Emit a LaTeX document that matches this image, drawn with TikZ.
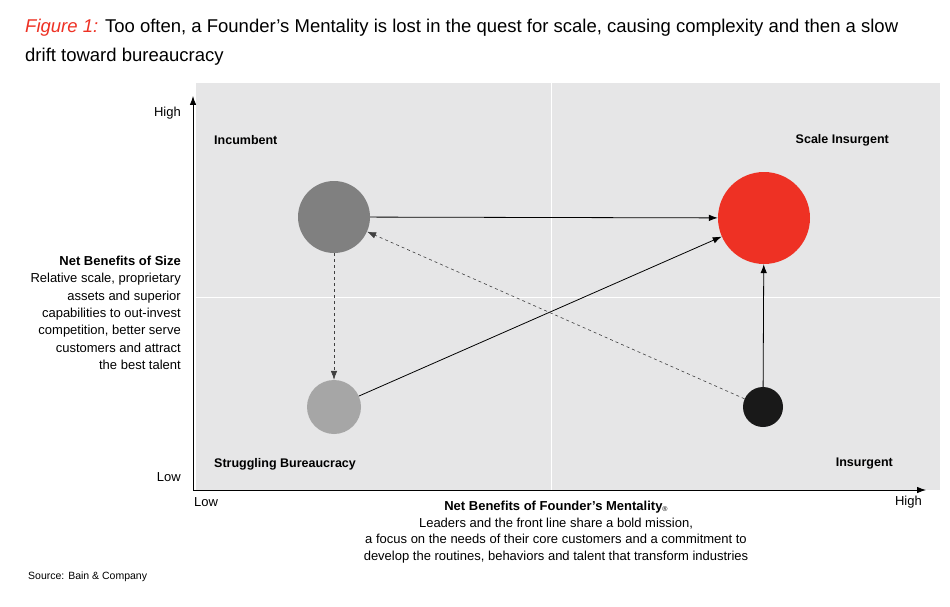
\documentclass[tikz,border=0pt]{standalone}
\usepackage{fontspec}
\setmainfont{Liberation Sans}
\usetikzlibrary{arrows.meta}
\definecolor{bred}{HTML}{EE3124}
\definecolor{plotbg}{HTML}{E6E6E7}
\begin{document}
\begin{tikzpicture}[x=1pt,y=-1pt,
  dot/.style={circle,draw=none,inner sep=0pt},
  lab/.style={font=\fontsize{12.5}{14}\selectfont\bfseries,inner sep=0pt},
  ax/.style={font=\fontsize{13}{16.5}\selectfont,inner sep=0pt},
  conn/.style={-{Latex[length=9pt,width=6.5pt]},line width=0.8pt},
  dconn/.style={conn,dashed,draw=black!75,line width=0.6pt}]
\useasboundingbox[fill=white] (0,0) rectangle (950,607);
\fill[plotbg] (196,83) rectangle (940,490);
\draw[white,line width=0.8pt] (551,83) -- (551,490) (196,297) -- (940,297);
\coordinate (o) at (193,490);
\coordinate (ytop) at (193,96);
\coordinate (xend) at (926,490);
\draw[conn] (o) -- (ytop);
\draw[conn] (o) -- (xend);
\node[ax,anchor=east] (yh) at (181,113) {High};
\node[ax,anchor=east] (yl) at (181,477) {Low};
\node[ax,anchor=west] (xl) at (194,502) {Low};
\node[ax,anchor=east] (xh) at (922,502) {High};
\node[dot,fill=black!50,minimum size=72pt] (inc) at (334,217) {};
\node[dot,fill=bred,minimum size=92pt] (sca) at (764,218) {};
\node[dot,fill=black!35,minimum size=54pt] (str) at (334,407) {};
\node[dot,fill=black!90,minimum size=40pt] (ins) at (763,407) {};
\draw[conn] (inc) -- (sca);
\draw[conn] (str) -- (sca);
\draw[conn] (ins) -- (sca);
\draw[dconn] (ins) -- (inc);
\draw[dconn] (inc) -- (str);
\node[lab,anchor=west] (q1) at (214,140) {Incumbent};
\node[lab,anchor=east] (q2) at (889,140) {Scale Insurgent};
\node[lab,anchor=west] (q3) at (214,464) {Struggling Bureaucracy};
\node[lab,anchor=east] (q4) at (893,464) {Insurgent};
\node[ax,anchor=north east,align=right,font=\fontsize{13}{17.3}\selectfont] (ylab) at (181,256) {\textbf{Net Benefits of Size}\\Relative scale, proprietary\\assets and superior\\capabilities to out-invest\\competition, better serve\\customers and attract\\the best talent};
\node[ax,anchor=north,align=center] (xlab) at (556,501) {\textbf{Net Benefits of Founder’s Mentality}{\fontsize{7}{8}\selectfont\raisebox{-1pt}{®}}\\Leaders and the front line share a bold mission,\\a focus on the needs of their core customers and a commitment to\\develop the routines, behaviors and talent that transform industries};
\node[anchor=west,inner sep=0pt,font=\fontsize{10.5}{12}\selectfont] (src) at (28,577) {Source: Bain \& Company};
\node[anchor=north west,inner sep=0pt,align=left,font=\fontsize{18.5}{29}\selectfont] (title) at (25,19) {{\color{bred}\itshape Figure 1:} Too often, a Founder’s Mentality is lost in the quest for scale, causing complexity and then a slow\\drift toward bureaucracy};
\end{tikzpicture}
\end{document}
